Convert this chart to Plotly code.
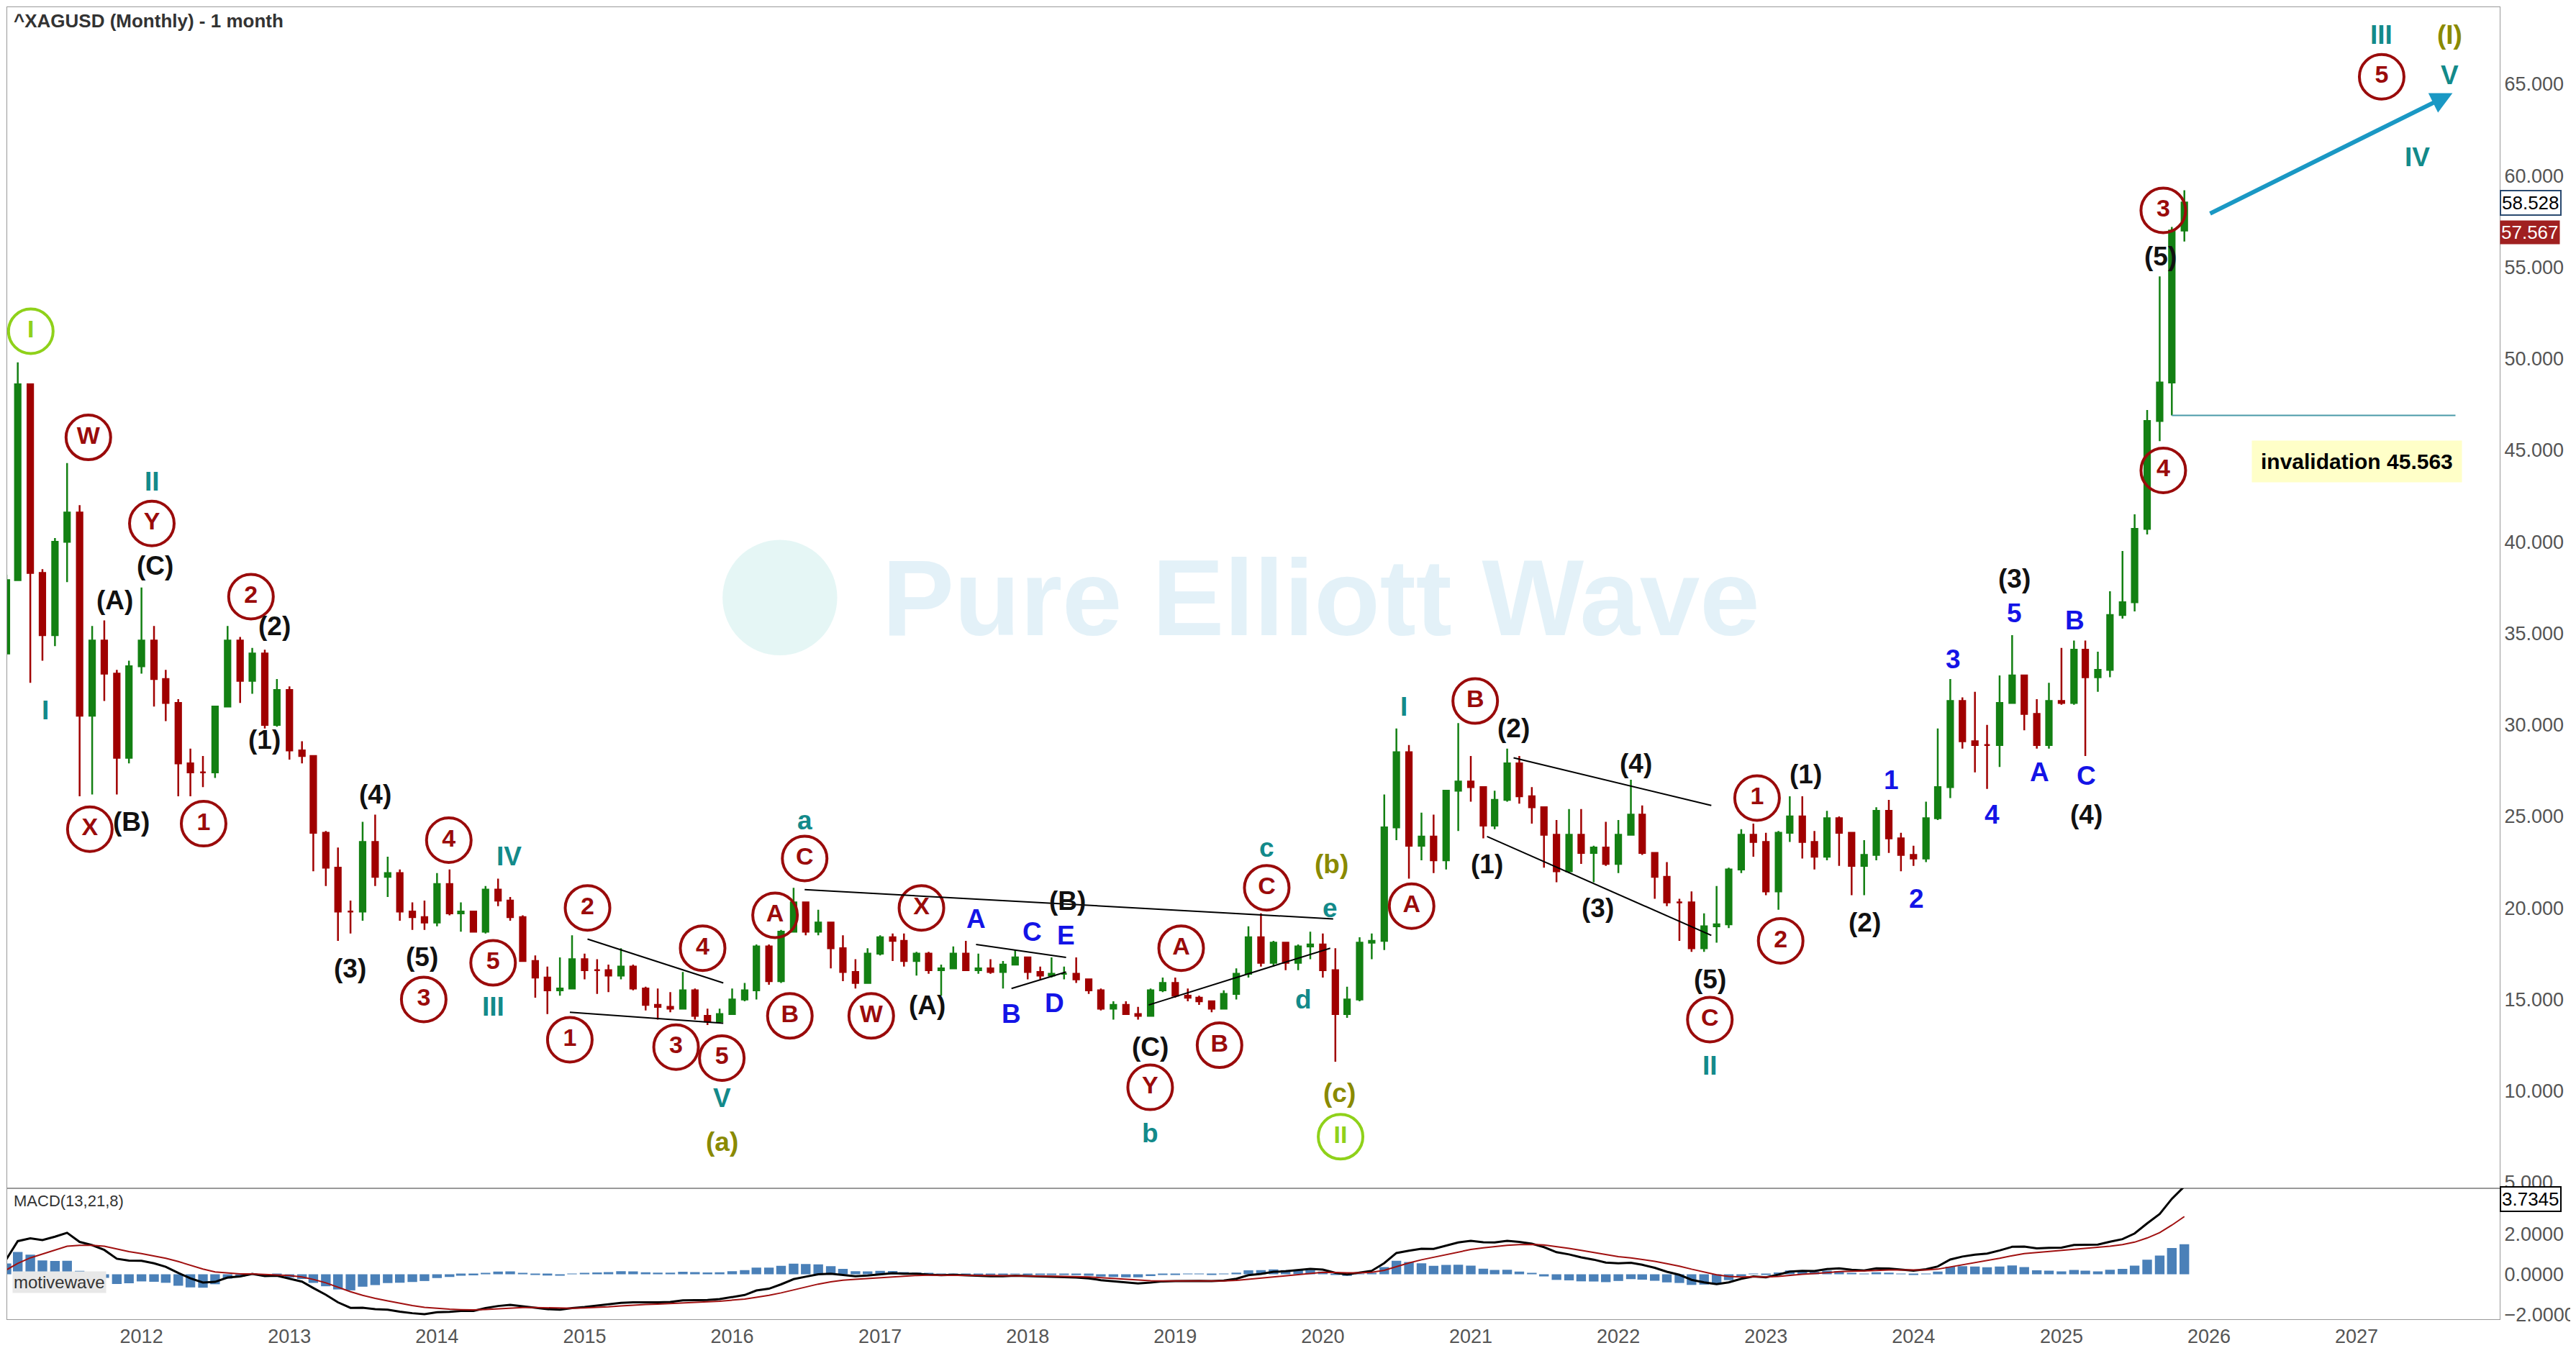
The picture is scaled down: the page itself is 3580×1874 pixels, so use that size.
import datetime as dt
import pandas as pd
import plotly.graph_objects as go
from plotly.subplots import make_subplots

# monthly silver candles, Dec 2010 .. Nov 2025
closes = [27.9, 33.9, 37.9, 48.6, 38.3, 34.9, 40.0, 41.6, 30.5, 34.6, 32.8, 28.2,
          33.2, 34.6, 32.5, 31.2, 27.9, 27.4, 27.4, 31.0, 34.6, 32.4, 33.9, 30.0,
          31.9, 28.6, 28.3, 24.1, 22.2, 19.8, 19.8, 23.6, 21.7, 21.9, 19.8, 19.5,
          19.2, 21.3, 19.7, 19.8, 18.7, 21.0, 20.4, 19.5, 17.1, 16.2, 15.5, 15.6,
          17.2, 16.6, 16.6, 16.3, 16.8, 15.6, 14.7, 14.6, 14.5, 15.5, 14.1, 13.8,
          14.2, 15.0, 15.5, 17.9, 16.0, 18.7, 20.3, 18.7, 19.2, 17.8, 16.5, 15.9,
          17.5, 18.4, 18.2, 17.1, 17.5, 16.6, 16.7, 17.5, 16.6, 16.7, 16.5, 16.9,
          17.3, 16.5, 16.3, 16.4, 16.4, 16.1, 15.5, 14.5, 14.7, 14.2, 14.1, 15.5,
          15.9, 15.2, 15.1, 14.9, 14.5, 15.3, 16.4, 18.4, 17.0, 18.1, 17.0, 17.9,
          18.0, 16.6, 14.2, 15.0, 18.1, 18.2, 24.4, 28.5, 23.4, 23.9, 22.6, 26.4,
          26.9, 26.6, 24.5, 25.9, 27.9, 26.1, 25.5, 24.0, 22.0, 24.0, 23.0, 23.3,
          22.4, 24.0, 25.1, 23.0, 21.7, 20.3, 20.3, 17.8, 19.0, 19.1, 22.1, 24.0,
          23.6, 20.9, 24.1, 25.0, 23.6, 22.8, 24.9, 24.1, 22.3, 22.9, 25.3, 23.8,
          22.9, 22.7, 24.9, 26.6, 31.3, 29.1, 28.9, 28.9, 31.2, 32.7, 30.6, 28.9,
          31.3, 31.2, 34.1, 32.6, 33.0, 36.0, 36.7, 40.7, 46.6, 48.7, 57.0, 58.53]
highs = [30.8, 34.0, 38.2, 49.8, 38.5, 38.5, 40.2, 44.3, 42.0, 35.4, 35.7, 33.0,
         33.5, 37.5, 35.4, 33.0, 31.4, 28.7, 28.3, 31.0, 35.4, 34.8, 34.2, 34.1,
         32.5, 32.1, 29.1, 28.3, 24.2, 23.3, 20.4, 24.7, 25.1, 22.8, 22.1, 20.3,
         20.4, 21.9, 22.1, 20.3, 19.7, 21.2, 21.6, 20.6, 19.6, 17.4, 16.8, 17.3,
         18.5, 17.5, 17.2, 16.9, 17.8, 16.9, 15.7, 15.6, 15.4, 16.5, 15.6, 14.5,
         14.5, 15.6, 15.9, 18.0, 18.0, 18.8, 21.1, 20.1, 19.9, 19.2, 18.5, 17.2,
         17.8, 18.5, 18.6, 18.6, 17.6, 17.6, 16.9, 17.9, 18.2, 17.5, 17.2, 17.1,
         17.7, 17.3, 16.8, 17.3, 16.8, 17.3, 16.0, 15.6, 14.9, 14.9, 14.6, 15.6,
         16.2, 16.2, 15.6, 15.2, 14.9, 15.5, 16.7, 19.0, 19.7, 18.2, 18.0, 18.0,
         18.7, 18.6, 17.8, 15.7, 18.4, 18.6, 26.2, 29.8, 28.9, 25.2, 25.1, 26.4,
         30.1, 28.3, 26.4, 26.4, 28.7, 28.3, 26.6, 24.9, 24.8, 25.4, 25.4, 23.4,
         24.7, 24.8, 27.0, 25.6, 22.8, 22.5, 20.5, 20.9, 19.7, 21.2, 22.2, 24.3,
         24.6, 24.1, 24.2, 26.1, 26.1, 24.2, 25.3, 25.0, 23.9, 23.7, 25.5, 25.9,
         24.1, 23.4, 25.8, 29.8, 32.5, 31.5, 31.8, 30.0, 32.7, 34.9, 31.7, 31.4,
         32.3, 34.2, 34.6, 34.6, 34.0, 37.3, 39.5, 41.5, 47.2, 54.5, 57.2, 59.2]
lows = [26.4, 27.9, 33.9, 37.9, 32.3, 33.5, 34.3, 37.8, 26.1, 26.2, 31.3, 26.2,
        27.9, 32.8, 31.0, 30.2, 26.1, 26.1, 26.6, 27.1, 31.0, 31.2, 31.7, 29.8,
        29.9, 28.1, 27.9, 22.0, 21.2, 18.2, 18.6, 19.3, 21.2, 20.6, 19.3, 18.8,
        18.8, 19.0, 19.6, 18.7, 18.7, 18.6, 20.1, 19.3, 17.1, 15.1, 14.2, 15.2,
        15.6, 16.1, 15.3, 15.4, 16.1, 15.5, 14.4, 13.9, 14.3, 14.5, 13.9, 13.6,
        13.7, 14.3, 14.9, 15.0, 15.8, 15.9, 18.8, 18.5, 18.5, 16.7, 16.0, 15.6,
        15.9, 17.4, 17.1, 16.8, 16.3, 16.4, 15.2, 16.7, 16.6, 16.4, 16.4, 15.6,
        16.9, 16.1, 16.1, 16.2, 16.1, 15.9, 15.3, 14.4, 13.9, 14.2, 13.9, 14.1,
        15.4, 15.1, 14.9, 14.7, 14.3, 14.5, 15.0, 16.2, 16.8, 16.8, 16.6, 16.6,
        17.2, 16.2, 11.6, 14.0, 14.9, 17.2, 17.7, 23.7, 21.6, 22.6, 21.9, 22.1,
        24.2, 25.8, 23.8, 24.3, 25.8, 25.7, 24.6, 22.2, 21.4, 21.9, 22.4, 21.4,
        22.3, 21.9, 24.0, 22.9, 20.5, 20.1, 18.2, 17.6, 17.6, 18.1, 18.9, 21.9,
        22.8, 20.7, 19.9, 23.6, 22.7, 22.1, 22.6, 22.3, 20.7, 20.7, 22.6, 23.0,
        22.0, 22.3, 22.5, 24.8, 26.0, 28.7, 27.4, 26.5, 27.7, 31.2, 29.7, 28.7,
        28.7, 31.1, 31.1, 28.3, 31.8, 32.6, 35.8, 36.2, 40.4, 45.5, 46.9, 56.4]
first_open = 30.6
invalidation = 46.9

df = pd.DataFrame({"close": closes, "high": highs, "low": lows},
                  index=pd.date_range("2010-12-01", periods=len(closes), freq="MS"))
df["open"] = df["close"].shift(1).fillna(first_open)

# MACD(13,21,8)
ema_fast = df["close"].ewm(span=13, adjust=False).mean()
ema_slow = df["close"].ewm(span=21, adjust=False).mean()
macd = ema_fast - ema_slow
signal = macd.ewm(span=8, adjust=False).mean()
hist = macd - signal

# wave labels: (text, decimal year, price, colour, circled)
DR, TL, BL, BK, OL, LM = "#9a0b0b", "#138a8a", "#1414e6", "#111111", "#8a8a00", "#8fd11a"
labels = [
    ("I", 2011.08, 51.5, LM, True), ("W", 2011.47, 45.7, DR, True), ("II", 2011.9, 43.3, TL, False),
    ("Y", 2011.9, 41.0, DR, True), ("(C)", 2011.92, 38.7, BK, False), ("(A)", 2011.65, 36.8, BK, False),
    ("I", 2011.18, 30.8, TL, False), ("X", 2011.48, 24.3, DR, True), ("(B)", 2011.76, 24.7, BK, False),
    ("1", 2012.25, 24.6, DR, True), ("2", 2012.57, 37.0, DR, True), ("(2)", 2012.73, 35.4, BK, False),
    ("(1)", 2012.66, 29.2, BK, False), ("(4)", 2013.41, 26.2, BK, False), ("(3)", 2013.24, 16.7, BK, False),
    ("4", 2013.91, 23.7, DR, True), ("(5)", 2013.73, 17.3, BK, False), ("3", 2013.74, 15.0, DR, True),
    ("IV", 2014.32, 22.8, TL, False), ("5", 2014.21, 17.0, DR, True), ("III", 2014.21, 14.6, TL, False),
    ("2", 2014.85, 20.0, DR, True), ("4", 2015.63, 17.8, DR, True), ("1", 2014.73, 12.8, DR, True),
    ("3", 2015.45, 12.4, DR, True), ("5", 2015.76, 11.8, DR, True), ("V", 2015.76, 9.6, TL, False),
    ("(a)", 2015.76, 7.2, OL, False), ("a", 2016.32, 24.8, TL, False), ("C", 2016.32, 22.7, DR, True),
    ("A", 2016.12, 19.6, DR, True), ("B", 2016.22, 14.1, DR, True), ("X", 2017.11, 20.0, DR, True),
    ("(B)", 2018.1, 20.4, BK, False), ("W", 2016.77, 14.1, DR, True), ("(A)", 2017.15, 14.7, BK, False),
    ("A", 2017.48, 19.4, BL, False), ("C", 2017.86, 18.7, BL, False), ("E", 2018.09, 18.5, BL, False),
    ("B", 2017.72, 14.2, BL, False), ("D", 2018.01, 14.8, BL, False), ("A", 2018.87, 17.8, DR, True),
    ("(C)", 2018.66, 12.4, BK, False), ("B", 2019.13, 12.5, DR, True), ("Y", 2018.66, 10.2, DR, True),
    ("b", 2018.66, 7.7, TL, False), ("c", 2019.45, 23.3, TL, False), ("C", 2019.45, 21.1, DR, True),
    ("(b)", 2019.89, 22.4, OL, False), ("e", 2019.88, 20.0, TL, False), ("d", 2019.7, 15.0, TL, False),
    ("(c)", 2019.94, 9.9, OL, False), ("II", 2019.95, 7.5, LM, True), ("I", 2020.38, 31.0, TL, False),
    ("A", 2020.43, 20.1, DR, True), ("B", 2020.86, 31.3, DR, True), ("(2)", 2021.12, 29.8, BK, False),
    ("(1)", 2020.94, 22.4, BK, False), ("(4)", 2021.95, 27.9, BK, False), ("(3)", 2021.69, 20.0, BK, False),
    ("(5)", 2022.45, 16.1, BK, False), ("C", 2022.45, 13.9, DR, True), ("II", 2022.45, 11.4, TL, False),
    ("1", 2022.77, 26.0, DR, True), ("(1)", 2023.1, 27.3, BK, False), ("2", 2022.93, 18.2, DR, True),
    ("(2)", 2023.5, 19.2, BK, False), ("1", 2023.68, 27.0, BL, False), ("2", 2023.85, 20.5, BL, False),
    ("3", 2024.1, 33.6, BL, False), ("4", 2024.36, 25.1, BL, False), ("5", 2024.51, 36.1, BL, False),
    ("(3)", 2024.51, 38.0, BK, False), ("A", 2024.68, 27.4, BL, False), ("B", 2024.92, 35.7, BL, False),
    ("C", 2025.0, 27.2, BL, False), ("(4)", 2025.0, 25.1, BK, False), ("4", 2025.52, 43.9, DR, True),
    ("(5)", 2025.5, 55.6, BK, False), ("3", 2025.52, 58.1, DR, True), ("III", 2027.0, 67.7, TL, False),
    ("(I)", 2027.46, 67.7, OL, False), ("5", 2027.0, 65.4, DR, True), ("V", 2027.46, 65.5, TL, False),
    ("IV", 2027.24, 61.0, TL, False),
]

# trend lines: (year0, price0, year1, price1)
trend_lines = [
    (2014.85, 18.3, 2015.77, 15.9), (2014.73, 14.3, 2015.77, 13.7),
    (2016.32, 21.0, 2019.9, 19.4), (2017.48, 18.0, 2018.09, 17.3), (2017.72, 15.6, 2018.09, 16.5),
    (2018.65, 14.7, 2019.88, 17.8),
    (2021.12, 28.2, 2022.46, 25.6), (2020.94, 23.9, 2022.46, 18.5),
]

LABEL_SHIFT = 0.17  # label years above were read on a scale offset from the axis


def yr(v, shift=LABEL_SHIFT):
    # decimal year -> date
    v += shift
    y = int(v)
    start = dt.datetime(y, 1, 1)
    return start + (dt.datetime(y + 1, 1, 1) - start) * (v - y)


W, H = 3580, 1874
fig = make_subplots(rows=2, cols=1, shared_xaxes=True, vertical_spacing=0,
                    row_heights=[0.9, 0.1])

fig.add_trace(go.Candlestick(
    x=df.index, open=df["open"], high=df["high"], low=df["low"], close=df["close"],
    increasing=dict(line=dict(color="#138013", width=2.5), fillcolor="#138013"),
    decreasing=dict(line=dict(color="#a00000", width=2.5), fillcolor="#a00000"),
    whiskerwidth=0, showlegend=False), row=1, col=1)

fig.add_trace(go.Bar(x=df.index, y=hist, marker_color="#4a80b8", marker_line_width=0,
                     showlegend=False), row=2, col=1)
fig.add_trace(go.Scatter(x=df.index, y=macd, mode="lines", line=dict(color="black", width=3),
                         showlegend=False), row=2, col=1)
fig.add_trace(go.Scatter(x=df.index, y=signal, mode="lines", line=dict(color="#a01010", width=2),
                         showlegend=False), row=2, col=1)

# wave labels
for txt, x, y, col, circ in labels:
    if circ:
        fig.add_trace(go.Scatter(
            x=[yr(x)], y=[y], mode="markers+text", text=[f"<b>{txt}</b>"], textposition="middle center",
            marker=dict(symbol="circle-open", size=62, line=dict(color=col, width=4), color=col),
            textfont=dict(family="Liberation Sans", size=34, color=col),
            showlegend=False, hoverinfo="skip"), row=1, col=1)
    else:
        fig.add_annotation(x=yr(x), y=y, xref="x", yref="y", text=f"<b>{txt}</b>", showarrow=False,
                           font=dict(family="Liberation Sans", size=37, color=col))

for x0, y0, x1, y1 in trend_lines:
    fig.add_shape(type="line", x0=yr(x0), y0=y0, x1=yr(x1), y1=y1, xref="x", yref="y",
                  line=dict(color="black", width=2))

# projection arrow
fig.add_annotation(x=yr(2027.48), y=64.5, ax=yr(2025.83), ay=57.9, xref="x", yref="y",
                   axref="x", ayref="y", showarrow=True, arrowhead=2, arrowsize=1,
                   arrowwidth=6, arrowcolor="#1a98c4", text="")

# invalidation
fig.add_shape(type="line", x0=df.index[-2], x1=yr(2027.5), y0=invalidation, y1=invalidation,
              xref="x", yref="y", line=dict(color="#4a9aa8", width=2))
fig.add_annotation(x=yr(2026.83), y=44.4, xref="x", yref="y", text="<b>invalidation 45.563</b>",
                   showarrow=False, bgcolor="#ffffc8", borderpad=12,
                   font=dict(family="Liberation Sans", size=30, color="black"))

# watermark
fig.add_annotation(x=0.527, y=0.55, xref="paper", yref="paper", text="<b>Pure Elliott Wave</b>",
                   showarrow=False, font=dict(family="Liberation Sans", size=150, color="rgba(200,228,242,0.5)"))
fig.add_shape(type="circle", xref="paper", yref="paper", x0=0.287, x1=0.333, y0=0.506, y1=0.594,
              fillcolor="rgba(180,230,225,0.35)", line_width=0, layer="below")

# last price tags
fig.add_annotation(x=1.0, y=58.528, xref="paper", yref="y", xanchor="left", text="58.528",
                   showarrow=False, bgcolor="white", bordercolor="#2a4a70", borderwidth=2,
                   font=dict(family="Liberation Sans", size=26, color="black"))
fig.add_annotation(x=1.0, y=57.567, xref="paper", yref="y", xanchor="left", yanchor="top",
                   text="57.567", showarrow=False, bgcolor="#a02020",
                   font=dict(family="Liberation Sans", size=26, color="white"))
fig.add_annotation(x=1.0, y=3.7345, xref="paper", yref="y2", xanchor="left", text="3.7345",
                   showarrow=False, bgcolor="white", bordercolor="black", borderwidth=2,
                   font=dict(family="Liberation Sans", size=26, color="black"))

fig.add_annotation(x=0.002, y=0.999, xref="paper", yref="paper", xanchor="left", yanchor="top",
                   text="<b>^XAGUSD (Monthly) - 1 month</b>", showarrow=False,
                   font=dict(family="Liberation Sans", size=26, color="#333"))
fig.add_annotation(x=0.002, y=0.098, xref="paper", yref="paper", xanchor="left", yanchor="top",
                   text="MACD(13,21,8)", showarrow=False,
                   font=dict(family="Liberation Sans", size=22, color="#333"))
fig.add_annotation(x=0.002, y=0.02, xref="paper", yref="paper", xanchor="left", yanchor="bottom",
                   text="motivewave", showarrow=False, bgcolor="#e8e8e8",
                   font=dict(family="Liberation Sans", size=24, color="#333"))

ax_font = dict(family="Liberation Sans", size=27, color="#555")
fig.update_xaxes(range=[yr(2011.09, 0), yr(2027.97, 0)], showgrid=False,
                 rangeslider_visible=False, showline=True, linecolor="#999", mirror=True,
                 dtick="M12", tickformat="%Y", ticks="", tickfont=ax_font)
fig.update_xaxes(showticklabels=False, row=1, col=1)
fig.update_yaxes(side="right", showgrid=False, showline=True, linecolor="#999", mirror=True,
                 tickformat=".3f", tickfont=ax_font, ticks="")
fig.update_yaxes(range=[4.7, 69.2], dtick=5, row=1, col=1)
fig.update_yaxes(range=[-2.24, 4.3], tickvals=[-2, 0, 2], tickformat=".4f", row=2, col=1)

fig.update_layout(width=W, height=H, plot_bgcolor="white", paper_bgcolor="white",
                  margin=dict(l=2, r=114, t=2, b=48), bargap=0.15)

fig.write_html("out.html")
